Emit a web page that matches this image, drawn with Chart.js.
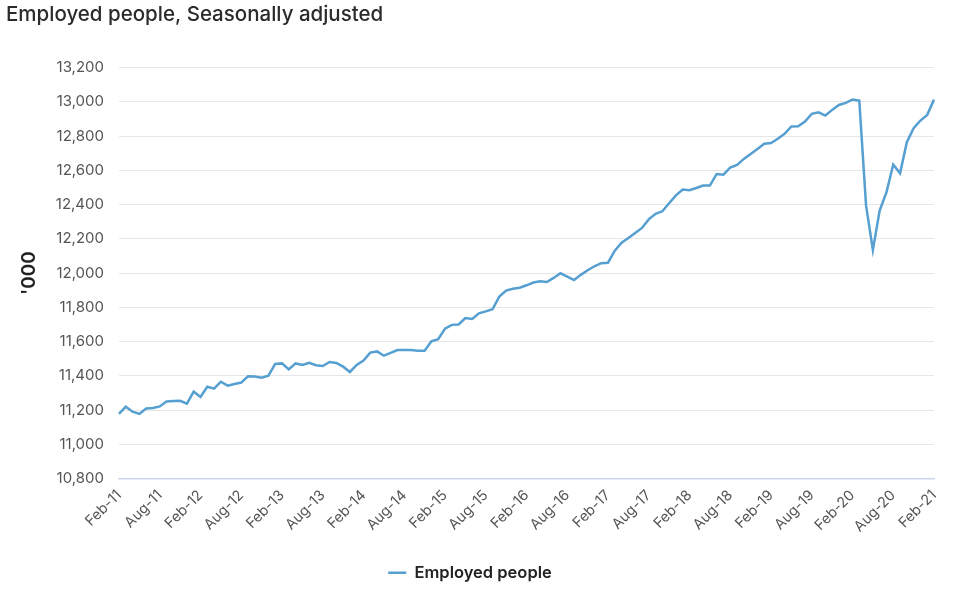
<!DOCTYPE html>
<html lang="en">
<head>
    <meta charset="UTF-8">
    <title>Employed people, Seasonally adjusted</title>
    <script src="https://cdn.jsdelivr.net/npm/chart.js"></script>
    <style>
        body { margin: 0; background: #fff; }
        #wrap { width: 960px; height: 598px; position: relative; }
    </style>
</head>
<body>
    <div id="wrap"><canvas id="lineChart"></canvas></div>

    <script>
        // months Feb-11 .. Feb-21
        var monthNames = ['Jan', 'Feb', 'Mar', 'Apr', 'May', 'Jun', 'Jul', 'Aug', 'Sep', 'Oct', 'Nov', 'Dec'];
        var labels = [];
        for (var i = 0; i < 121; i++) {
            var m = (1 + i) % 12;
            var y = 11 + Math.floor((1 + i) / 12);
            labels.push(monthNames[m] + '-' + y);
        }

        // employed people, '000
        var employed = [
            11178, 11220, 11191, 11178, 11210, 11213, 11222, 11251, 11253, 11255, 11238, 11308,
            11277, 11337, 11326, 11366, 11343, 11353, 11361, 11398, 11396, 11390, 11401, 11470,
            11473, 11438, 11473, 11464, 11476, 11462, 11458, 11481, 11476, 11454, 11423, 11464,
            11489, 11536, 11543, 11518, 11534, 11551, 11551, 11551, 11547, 11547, 11602, 11614,
            11676, 11698, 11700, 11738, 11733, 11765, 11777, 11789, 11863, 11898, 11909, 11915,
            11929, 11945, 11952, 11948, 11972, 11999, 11980, 11960, 11990, 12017, 12040, 12058,
            12061, 12131, 12178, 12205, 12234, 12264, 12314, 12346, 12361, 12408, 12454, 12488,
            12484, 12497, 12511, 12511, 12579, 12575, 12617, 12632, 12667, 12696, 12725, 12756,
            12760, 12785, 12813, 12856, 12858, 12885, 12930, 12939, 12920, 12953, 12982, 12994,
            13013, 13007, 12394, 12135, 12365, 12472, 12634, 12583, 12764, 12846, 12891, 12924,
            13013
        ];

        var yMin = 10800;
        var yMax = 13200;
        var yStep = 200;

        var font = 'Inter, "Noto Sans", "Liberation Sans", sans-serif';

        var config = {
            type: 'line',
            data: {
                labels: labels,
                datasets: [{
                    label: 'Employed people',
                    data: employed,
                    borderColor: '#559fd1',
                    backgroundColor: '#559fd1',
                    borderWidth: 2.5,
                    pointRadius: 0,
                    pointStyle: 'line',
                    tension: 0,
                    fill: false
                }]
            },
            options: {
                responsive: true,
                maintainAspectRatio: false,
                animation: false,
                layout: {
                    padding: { left: 6, right: 26, top: 0, bottom: 7 }
                },
                plugins: {
                    title: {
                        display: true,
                        text: 'Employed people, Seasonally adjusted',
                        align: 'start',
                        color: '#2b2b2b',
                        font: { family: font, size: 20.5, weight: '500' },
                        padding: { top: 3, bottom: 40 }
                    },
                    legend: {
                        position: 'bottom',
                        labels: {
                            color: '#222',
                            font: { family: font, size: 16.5, weight: '600' },
                            usePointStyle: true,
                            pointStyle: 'line',
                            pointStyleWidth: 18,
                            boxHeight: 14,
                            padding: 21
                        }
                    },
                    tooltip: { enabled: false }
                },
                scales: {
                    x: {
                        grid: { display: false, drawTicks: false },
                        border: { color: '#ccd6eb', width: 1.5 },
                        ticks: {
                            autoSkip: false,
                            maxRotation: 45,
                            minRotation: 45,
                            color: '#555',
                            padding: 8,
                            font: { family: font, size: 14.5 },
                            callback: function (val, idx) {
                                return idx % 6 === 0 ? labels[idx] : null;
                            }
                        }
                    },
                    y: {
                        min: yMin,
                        max: yMax,
                        grid: { color: '#e6e6e6', drawTicks: false },
                        border: { display: false },
                        title: {
                            display: true,
                            text: "'000",
                            color: '#222',
                            font: { family: font, size: 19, weight: '600' },
                            padding: { top: 12, bottom: 0 }
                        },
                        ticks: {
                            stepSize: yStep,
                            color: '#555',
                            padding: 15,
                            font: { family: font, size: 15 },
                            callback: function (v) { return v.toLocaleString('en-US'); }
                        }
                    }
                }
            }
        };

        var ctx = document.getElementById('lineChart').getContext('2d');
        var myChart = new Chart(ctx, config);
    </script>
</body>
</html>
